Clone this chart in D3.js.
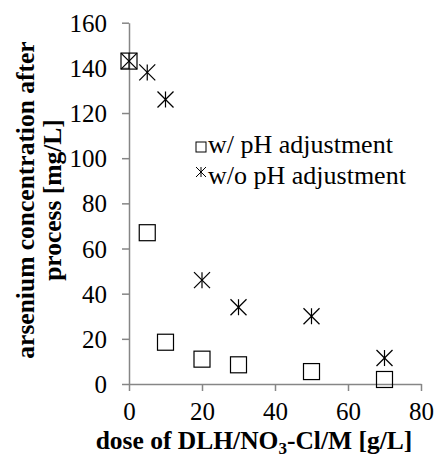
<!DOCTYPE html>
<html>
<head>
<meta charset="utf-8">
<script src="https://cdn.jsdelivr.net/npm/d3@7"></script>
</head>
<body style="margin:0">
<svg width="436" height="459"></svg>
<script>
// dose of DLH/NO3-Cl/M [g/L]
const doses = [0, 5, 10, 20, 30, 50, 70];
// arsenium concentration after process [mg/L]
const withPH = [143, 67, 18.5, 11, 8.5, 5.5, 2];
const withoutPH = [143, 138, 126, 46, 34, 30, 11.5];
const seriesNames = ["w/ pH adjustment", "w/o pH adjustment"];
const xTicks = [0, 20, 40, 60, 80];
const yTicks = [0, 20, 40, 60, 80, 100, 120, 140, 160];

const font = 'Liberation Serif';
const svg = d3.select('svg');
const axisColor = '#868686';

const x = d3.scaleLinear().domain([0, 80]).range([129, 421]);
const y = d3.scaleLinear().domain([0, 160]).range([384, 22.7]);

// axes
const gx = svg.append('g')
  .attr('transform', 'translate(0,384)')
  .call(d3.axisBottom(x).tickValues(xTicks).tickSize(7).tickSizeOuter(0));
gx.selectAll('text').attr('y', 36).attr('dy', null).attr('fill', '#000')
  .attr('font-family', font).attr('font-size', 25);

const gy = svg.append('g')
  .attr('transform', 'translate(129,0)')
  .call(d3.axisLeft(y).tickValues(yTicks).tickSize(7).tickSizeOuter(0));
gy.selectAll('text').attr('x', -22).attr('dy', '0.34em').attr('fill', '#000')
  .attr('font-family', font).attr('font-size', 25);

svg.selectAll('.domain, .tick line')
  .attr('stroke', axisColor).attr('stroke-width', 1.5);

// markers
function star(sel, r) {
  sel.append('line').attr('x1', -r).attr('y1', -r).attr('x2', r).attr('y2', r);
  sel.append('line').attr('x1', -r).attr('y1', r).attr('x2', r).attr('y2', -r);
  sel.append('line').attr('x1', 0).attr('y1', -r).attr('x2', 0).attr('y2', r);
}

const pts1 = doses.map((d, i) => ({d: d, v: withPH[i]}));
const pts2 = doses.map((d, i) => ({d: d, v: withoutPH[i]}));

svg.selectAll('rect.sq')
  .data(pts1)
  .enter()
  .append('rect')
  .attr('class', 'sq')
  .attr('x', d => x(d.d) - 8)
  .attr('y', d => y(d.v) - 8)
  .attr('width', 16)
  .attr('height', 16)
  .attr('fill', 'none')
  .attr('stroke', '#000')
  .attr('stroke-width', 1.2);

svg.selectAll('g.st')
  .data(pts2)
  .enter()
  .append('g')
  .attr('class', 'st')
  .attr('transform', d => `translate(${x(d.d)},${y(d.v)})`)
  .attr('stroke', '#000')
  .attr('stroke-width', 1.2)
  .each(function() { star(d3.select(this), 8); });

// legend
const leg = svg.append('g');
leg.append('rect')
  .attr('x', 196).attr('y', 142).attr('width', 10).attr('height', 10)
  .attr('fill', 'none').attr('stroke', '#000').attr('stroke-width', 1);
leg.append('g')
  .attr('transform', 'translate(201,172)')
  .attr('stroke', '#000').attr('stroke-width', 1)
  .call(star, 5);
leg.selectAll('text')
  .data(seriesNames)
  .enter()
  .append('text')
  .attr('x', 208)
  .attr('y', (d, i) => 153 + i * 31)
  .attr('font-family', font)
  .attr('font-size', 26)
  .text(d => d);

// axis titles
const xt = svg.append('text')
  .attr('x', 254).attr('y', 449)
  .attr('text-anchor', 'middle')
  .attr('font-family', font)
  .attr('font-size', 25.5).attr('font-weight', 'bold');
xt.append('tspan').text('dose of DLH/NO');
xt.append('tspan').attr('dy', 5).attr('font-size', 17).text('3');
xt.append('tspan').attr('dy', -5).text('-Cl/M [g/L]');

const yt = svg.append('text')
  .attr('transform', 'translate(0,200) rotate(-90)')
  .attr('text-anchor', 'middle')
  .attr('font-family', font)
  .attr('font-size', 25.5).attr('font-weight', 'bold');
yt.append('tspan').attr('x', 0).attr('y', 34).text('arsenium concentration after');
yt.append('tspan').attr('x', 0).attr('y', 61).text('process [mg/L]');
</script>
</body>
</html>
